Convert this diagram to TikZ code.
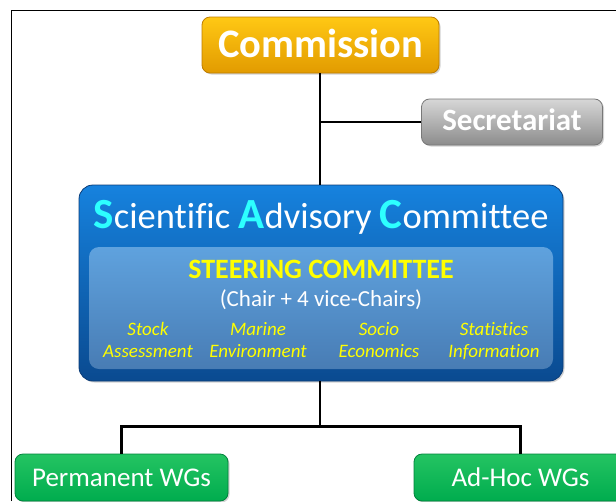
\documentclass[tikz,border=0pt]{standalone}
\usepackage{fontspec}
\setmainfont[Ligatures={NoCommon}]{Carlito}
\usetikzlibrary{shadows}
\definecolor{goldT}{RGB}{255,200,20}
\definecolor{goldB}{RGB}{226,155,0}
\definecolor{goldD}{RGB}{190,125,0}
\definecolor{grayT}{RGB}{215,215,215}
\definecolor{grayB}{RGB}{140,140,140}
\definecolor{grayD}{RGB}{120,120,120}
\definecolor{blueT}{RGB}{22,130,222}
\definecolor{blueB}{RGB}{10,74,144}
\definecolor{blueD}{RGB}{10,60,120}
\definecolor{innerT}{RGB}{95,162,222}
\definecolor{innerB}{RGB}{72,124,180}
\definecolor{greenT}{RGB}{36,196,98}
\definecolor{greenB}{RGB}{0,172,78}
\definecolor{greenD}{RGB}{0,130,60}
\definecolor{capCyan}{RGB}{45,255,255}
\definecolor{steerYellow}{RGB}{255,255,0}
\newcommand\capletter[1]{{\color{capCyan}\bfseries\fontsize{43}{48}\selectfont #1}}
\begin{document}
\begin{tikzpicture}[x=1pt,y=-1pt,
  boxbase/.style={rounded corners=8pt, line width=0.8pt, inner sep=0pt,
    drop shadow={shadow xshift=1.5pt, shadow yshift=-1.5pt, opacity=0.35}},
  goldbox/.style={boxbase, draw=goldD, top color=goldT, bottom color=goldB},
  graybox/.style={boxbase, draw=grayD, top color=grayT, bottom color=grayB},
  bluebox/.style={boxbase, rounded corners=14pt, draw=blueD, top color=blueT, bottom color=blueB},
  innerbox/.style={rounded corners=10pt, inner sep=0pt, top color=innerT, bottom color=innerB},
  greenbox/.style={boxbase, draw=greenD, top color=greenT, bottom color=greenB},
  lbl/.style={anchor=base, inner sep=0pt, text=white},
  wire/.style={line width=2.4pt, black}
]
\useasboundingbox (0,0) rectangle (616,501);
% frame
\draw[line width=1.5pt] (11.5,501) -- (11.5,10.5) -- (616,10.5);

% boxes
\node[goldbox, minimum width=237pt, minimum height=56pt] (comm) at (320.5,45) {};
\node[graybox, minimum width=181pt, minimum height=46pt] (sec) at (512,122) {};
\node[bluebox, minimum width=484pt, minimum height=196pt] (sac) at (321,283) {};
\node[innerbox, minimum width=464pt, minimum height=122pt] (steer) at (321,308) {};
\node[greenbox, minimum width=213pt, minimum height=47pt] (perm) at (121.5,477.5) {};
\node[greenbox, minimum width=213pt, minimum height=47pt] (adhoc) at (520.5,477.5) {};

% connectors
\coordinate (bar) at (320,426.5);
\draw[wire] (comm.south -| bar) -- (sac.north -| bar);
\draw[wire] (sec.west) -- (sec.west -| bar);
\draw[wire] (sac.south -| bar) -- (bar);
\draw[wire] (perm.north) |- (bar) -| (adhoc.north);

% texts
\node[lbl, font=\bfseries\fontsize{40.5}{44}\selectfont] (commT) at (320.5,57) {Commission};
\node[lbl, font=\bfseries\fontsize{31}{34}\selectfont] (secT) at (512,130) {Secretariat};
\node[lbl, font=\fontsize{36.5}{40}\selectfont] (sacT) at (321,228)
  {\capletter{S}cientific \capletter{A}dvisory \capletter{C}ommittee};
\node[lbl, text=steerYellow, font=\bfseries\fontsize{28}{32}\selectfont] (steerT) at (321,278) {STEERING COMMITTEE};
\node[lbl, font=\fontsize{23}{26}\selectfont] (chairT) at (321,306) {(Chair + 4 vice-Chairs)};
\begin{scope}[every node/.style={align=center, anchor=north, inner sep=0pt, text=steerYellow,
    font=\itshape\fontsize{19}{22}\selectfont}]
\node (stock) at (148,319.6) {\strut Stock\\Assessment};
\node (marine) at (258,319.6) {\strut Marine\\Environment};
\node (socio) at (379,319.6) {\strut Socio\\Economics};
\node (stat) at (494,319.6) {\strut Statistics\\Information};
\end{scope}
\node[lbl, font=\fontsize{27}{30}\selectfont] (permT) at (121.5,486) {Permanent WGs};
\node[lbl, font=\fontsize{27}{30}\selectfont] (adhocT) at (520.5,486) {Ad-Hoc WGs};
\end{tikzpicture}
\end{document}
